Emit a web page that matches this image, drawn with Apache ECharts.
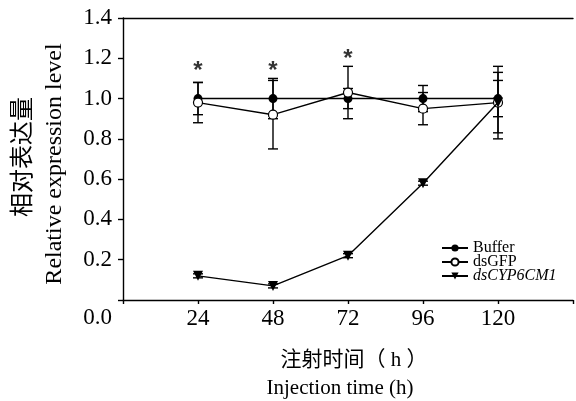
<!DOCTYPE html>
<html>
<head>
<meta charset="utf-8">
<script src="https://cdn.jsdelivr.net/npm/echarts@6/dist/echarts.min.js"></script>
<style>
  html, body { margin: 0; padding: 0; background: #fff; }
  #chart { width: 576px; height: 401px; }
</style>
</head>
<body>
<div id="chart"></div>
<script>
// 注射时间 (h)
const hours = [24, 48, 72, 96, 120];
const bufferMean = [1.0, 1.0, 1.0, 1.0, 1.0];
const bufferErr = [0.08, 0.10, 0.05, 0.065, 0.09];
const gfpMean = [0.98, 0.92, 1.03, 0.95, 0.98];
const gfpErr = [0.10, 0.17, 0.13, 0.08, 0.15];
const cypMean = [0.12, 0.07, 0.22, 0.58, 0.98];
const cypErr = [0.01, 0.01, 0.01, 0.01, 0.18];
// 显著性标记
const starHours = [24, 48, 72];
const starLevels = [1.135, 1.135, 1.195];

const serif = "'Liberation Serif', 'Noto Sans CJK SC', serif";

var myChart = echarts.init(document.getElementById("chart"));

function pairs(xs, ys) {
  return xs.map((x, i) => [x, ys[i]]);
}

// 误差线
function errorSeries(mean, err) {
  return {
    type: "custom",
    silent: true,
    z: 1,
    data: hours.map((h, i) => [h, mean[i] - err[i], mean[i] + err[i]]),
    renderItem: function (params, api) {
      var lo = api.coord([api.value(0), api.value(1)]);
      var hi = api.coord([api.value(0), api.value(2)]);
      var w = 5;
      var st = { stroke: "#000", lineWidth: 1.4 };
      return {
        type: "group",
        children: [
          { type: "line", shape: { x1: lo[0], y1: lo[1], x2: hi[0], y2: hi[1] }, style: st },
          { type: "line", shape: { x1: lo[0] - w, y1: lo[1], x2: lo[0] + w, y2: lo[1] }, style: st },
          { type: "line", shape: { x1: hi[0] - w, y1: hi[1], x2: hi[0] + w, y2: hi[1] }, style: st },
        ],
      };
    },
  };
}

var option = {
  animation: false,
  backgroundColor: "#fff",
  grid: { left: 123, top: 18, right: -2, bottom: 101 },
  legend: {
    orient: "vertical",
    left: 441,
    top: 240,
    padding: 0,
    itemWidth: 26,
    itemHeight: 9,
    itemGap: -2,
    data: ["Buffer", "dsGFP", "dsCYP6CM1"],
    textStyle: {
      fontFamily: serif,
      fontSize: 16,
      color: "#000",
      rich: { i: { fontFamily: serif, fontSize: 16, fontStyle: "italic", color: "#000" } },
    },
    formatter: function (name) {
      return name === "dsCYP6CM1" ? "{i|" + name + "}" : name;
    },
  },
  xAxis: [
    {
      type: "value",
      min: 0,
      max: 144,
      interval: 24,
      splitLine: { show: false },
      axisLine: { lineStyle: { color: "#000", width: 1.4 } },
      axisTick: { show: true, length: 4, lineStyle: { color: "#000", width: 1.4 } },
      axisLabel: {
        margin: 7,
        fontFamily: serif,
        fontSize: 23,
        color: "#000",
        formatter: function (v) {
          return v === 0 || v === 144 ? "" : String(v);
        },
      },
    },
    {
      type: "value",
      position: "top",
      min: 0,
      max: 144,
      splitLine: { show: false },
      axisLine: { show: true, lineStyle: { color: "#000", width: 1.4 } },
      axisTick: { show: false },
      axisLabel: { show: false },
    },
  ],
  yAxis: {
    type: "value",
    min: 0,
    max: 1.4,
    interval: 0.2,
    splitLine: { show: false },
    axisLine: { show: true, lineStyle: { color: "#000", width: 1.4 } },
    axisTick: { show: true, length: 5, lineStyle: { color: "#000", width: 1.4 } },
    axisLabel: {
      margin: 11,
      fontFamily: serif,
      fontSize: 23,
      color: "#000",
      formatter: function (v) {
        return v === 0 ? "{low|0.0}" : v.toFixed(1);
      },
      rich: { low: { fontFamily: serif, fontSize: 23, color: "#000", padding: [36, 0, 0, 0] } },
    },
  },
  series: [
    errorSeries(bufferMean, bufferErr),
    errorSeries(gfpMean, gfpErr),
    errorSeries(cypMean, cypErr),
    {
      name: "Buffer",
      type: "line",
      z: 3,
      symbol: "circle",
      symbolSize: 9,
      itemStyle: { color: "#000" },
      lineStyle: { color: "#000", width: 1.4 },
      data: pairs(hours, bufferMean),
    },
    {
      name: "dsGFP",
      type: "line",
      z: 4,
      symbol: "circle",
      symbolSize: 9,
      itemStyle: { color: "#fff", borderColor: "#000", borderWidth: 1.2 },
      lineStyle: { color: "#000", width: 1.4 },
      data: pairs(hours, gfpMean),
    },
    {
      name: "dsCYP6CM1",
      type: "line",
      z: 5,
      symbol: "triangle",
      symbolRotate: 180,
      symbolSize: 10,
      itemStyle: { color: "#000" },
      lineStyle: { color: "#000", width: 1.4 },
      data: pairs(hours, cypMean),
    },
    {
      type: "scatter",
      silent: true,
      symbolSize: 1,
      itemStyle: { color: "transparent" },
      label: {
        show: true,
        position: "inside",
        formatter: "*",
        fontFamily: "'Liberation Sans', sans-serif",
        fontWeight: "bold",
        fontSize: 24,
        color: "#000",
      },
      data: pairs(starHours, starLevels),
    },
  ],
  graphic: [
    {
      type: "text",
      x: 24,
      y: 157,
      rotation: Math.PI / 2,
      style: {
        text: "相对表达量",
        fill: "#000",
        font: "24px " + serif,
        align: "center",
        verticalAlign: "middle",
      },
    },
    {
      type: "text",
      x: 55,
      y: 164,
      rotation: Math.PI / 2,
      style: {
        text: "Relative expression level",
        fill: "#000",
        font: "24px " + serif,
        align: "center",
        verticalAlign: "middle",
      },
    },
    {
      type: "text",
      x: 354,
      y: 360,
      style: {
        text: "注射时间（ h ）",
        fill: "#000",
        font: "21px " + serif,
        align: "center",
        verticalAlign: "middle",
      },
    },
    {
      type: "text",
      x: 340,
      y: 388,
      style: {
        text: "Injection time (h)",
        fill: "#000",
        font: "21px " + serif,
        align: "center",
        verticalAlign: "middle",
      },
    },
  ],
};

myChart.setOption(option);
</script>
</body>
</html>
